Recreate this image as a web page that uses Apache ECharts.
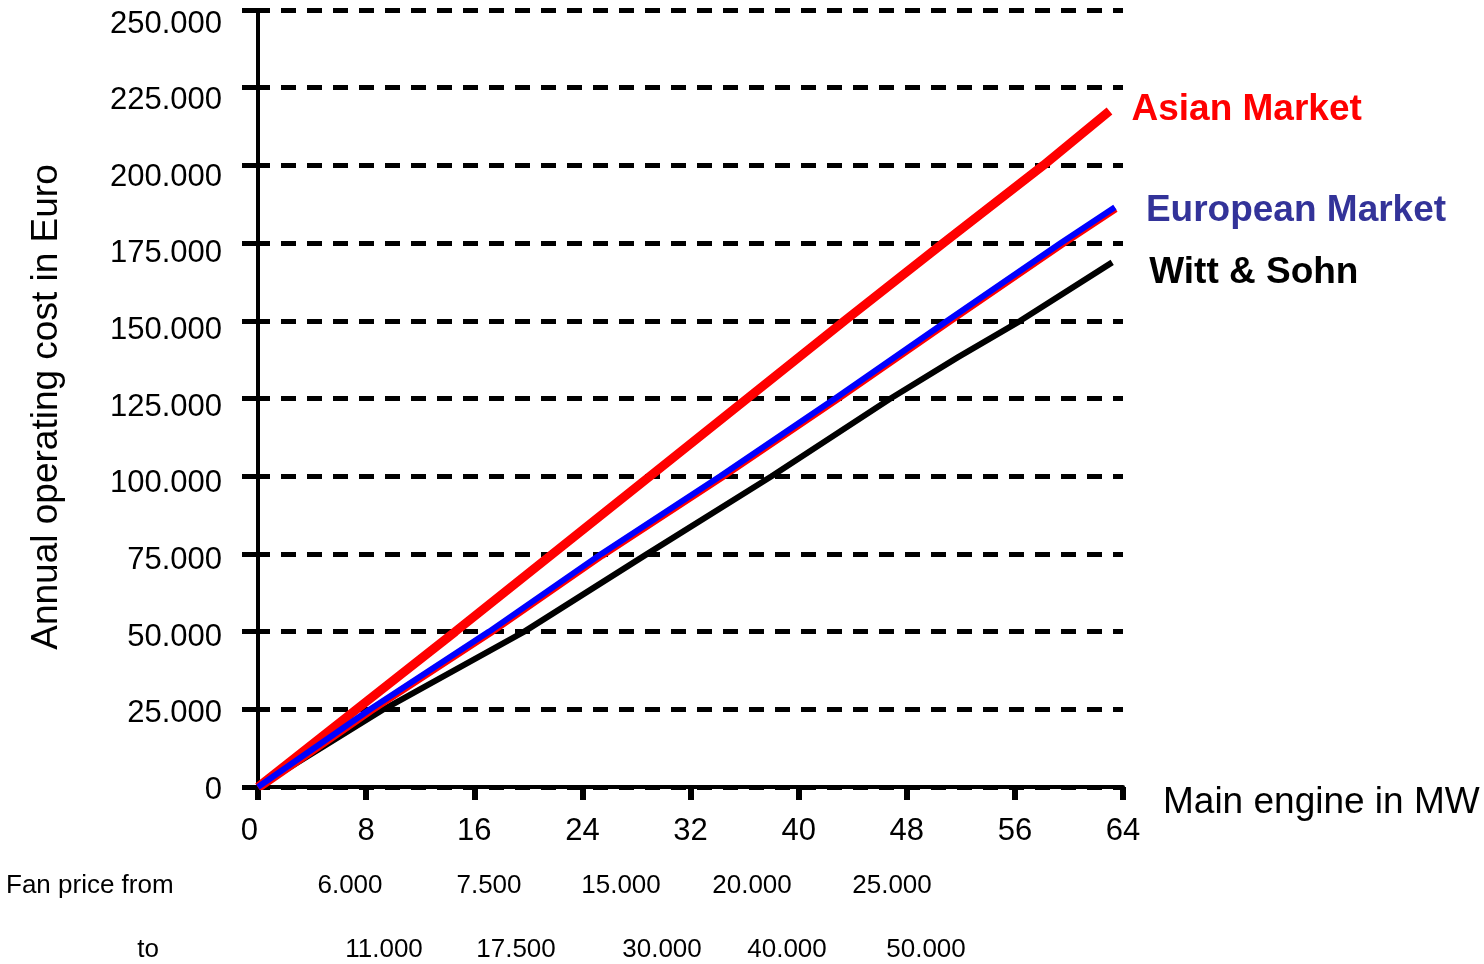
<!DOCTYPE html>
<html>
<head>
<meta charset="utf-8">
<script src="https://cdn.jsdelivr.net/npm/echarts@6/dist/echarts.min.js"></script>
<style>
  html, body { margin: 0; padding: 0; background: #ffffff; }
  #chart { width: 1484px; height: 964px; }
</style>
</head>
<body>
<div id="chart"></div>
<script>
// Annual operating cost (Euro) by main engine power (MW)
const asianMarket = [[0, 0], [7.3, 25000], [14.6, 50000], [29.0, 100000], [43.4, 150000], [50.7, 175000], [58.1, 200000], [63.0, 217500]];
const europeanMarket = [[0, 0], [8.3, 25000], [17.1, 50000], [25.4, 75000], [34.2, 100000], [42.7, 125000], [51.0, 150000], [59.4, 175000], [63.4, 186500]];
const wittSohn = [[0, 0], [9.3, 25000], [19.7, 50000], [28.8, 75000], [38.0, 100000], [46.8, 125000], [51.8, 138300], [56.4, 150000], [63.2, 168800]];

const seriesNames = ['Asian Market', 'European Market', 'Witt & Sohn'];

// Axis ranges
const yMax = 250000, yStep = 25000;
const xMax = 64, xStep = 8;

// Fan price ranges printed under the axis
const fanPriceFrom = ['6.000', '7.500', '15.000', '20.000', '25.000'];
const fanPriceTo = ['11.000', '17.500', '30.000', '40.000', '50.000'];

// Layout of the fan price rows (pixel centres)
const fromCenters = [350, 489, 621, 752, 892];
const toCenters = [384, 516, 662, 787, 926];

// The cost labels sit on a slightly tighter pitch than the grid lines
const labelAxisMax = 253420;

const FONT = 'Liberation Sans, Arial, sans-serif';

function thousands(v) {
  return String(v).replace(/\B(?=(\d{3})+(?!\d))/g, '.');
}

const chart = echarts.init(document.getElementById('chart'), null, { renderer: 'canvas' });

const graphics = [
  {
    type: 'text', x: 47, y: 407, rotation: Math.PI / 2,
    style: { text: 'Annual operating cost in Euro', fill: '#000', fontSize: 37, fontFamily: FONT, align: 'center', verticalAlign: 'middle' }
  },
  {
    type: 'text', x: 6, y: 886,
    style: { text: 'Fan price from', fill: '#000', fontSize: 26, fontFamily: FONT, align: 'left', verticalAlign: 'middle' }
  },
  {
    type: 'text', x: 148, y: 950,
    style: { text: 'to', fill: '#000', fontSize: 26, fontFamily: FONT, align: 'center', verticalAlign: 'middle' }
  }
];
fanPriceFrom.forEach((t, i) => graphics.push({
  type: 'text', x: fromCenters[i], y: 886,
  style: { text: t, fill: '#000', fontSize: 26, fontFamily: FONT, align: 'center', verticalAlign: 'middle' }
}));
fanPriceTo.forEach((t, i) => graphics.push({
  type: 'text', x: toCenters[i], y: 950,
  style: { text: t, fill: '#000', fontSize: 26, fontFamily: FONT, align: 'center', verticalAlign: 'middle' }
}));

const option = {
  animation: false,
  backgroundColor: '#ffffff',
  textStyle: { fontFamily: FONT },
  grid: { left: 258, right: 361, top: 10, bottom: 177, containLabel: false, outerBoundsMode: 'none' },
  xAxis: {
    type: 'value', min: 0, max: xMax, interval: xStep,
    name: 'Main engine in MW', nameLocation: 'end', nameGap: 40,
    nameTextStyle: { fontSize: 37, color: '#000', fontFamily: FONT, verticalAlign: 'top', lineHeight: 31 },
    axisLine: { show: true, lineStyle: { color: '#000', width: 4 } },
    axisTick: { show: true, inside: false, length: 13, lineStyle: { color: '#000', width: 6 } },
    axisLabel: { fontSize: 31, color: '#000', fontFamily: FONT, margin: 29, alignMinLabel: 'right' },
    splitLine: { show: false }
  },
  yAxis: [
    {
      type: 'value', min: 0, max: yMax, interval: yStep,
      axisLine: { show: true, lineStyle: { color: '#000', width: 4 } },
      axisTick: { show: true, inside: false, length: 16, lineStyle: { color: '#000', width: 5 } },
      axisLabel: { show: false },
      splitLine: { show: true, lineStyle: { color: '#000', width: 5, type: [15, 11], dashOffset: 3 } }
    },
    {
      // carries only the cost labels
      type: 'value', min: 0, max: labelAxisMax, interval: yStep, position: 'left',
      axisLine: { show: false }, axisTick: { show: false }, splitLine: { show: false },
      axisLabel: {
        fontSize: 31, color: '#000', fontFamily: FONT, margin: 36, verticalAlign: 'top', lineHeight: 7,
        formatter: v => (v % yStep === 0 && v <= yMax) ? thousands(v) : ''
      }
    }
  ],
  series: [
    {
      name: seriesNames[2], type: 'line', data: wittSohn, showSymbol: false, z: 2,
      lineStyle: { color: '#000000', width: 6 },
      endLabel: { show: true, formatter: seriesNames[2], color: '#000000', fontSize: 37, fontWeight: 'bold', fontFamily: FONT, offset: [29, 10] }
    },
    {
      name: seriesNames[0], type: 'line', data: asianMarket, showSymbol: false, z: 3,
      lineStyle: { color: '#ff0000', width: 9 },
      endLabel: { show: true, formatter: seriesNames[0], color: '#ff0000', fontSize: 37, fontWeight: 'bold', fontFamily: FONT, offset: [14, -1] }
    },
    {
      name: seriesNames[1], type: 'line', data: europeanMarket, showSymbol: false, z: 4,
      lineStyle: { color: '#0000ff', width: 6, shadowColor: '#ff0000', shadowBlur: 0, shadowOffsetX: 1, shadowOffsetY: 2 },
      endLabel: { show: true, formatter: seriesNames[1], color: '#333399', fontSize: 37, fontWeight: 'bold', fontFamily: FONT, offset: [23, 3] }
    }
  ],
  graphic: graphics
};

chart.setOption(option);
</script>
</body>
</html>
